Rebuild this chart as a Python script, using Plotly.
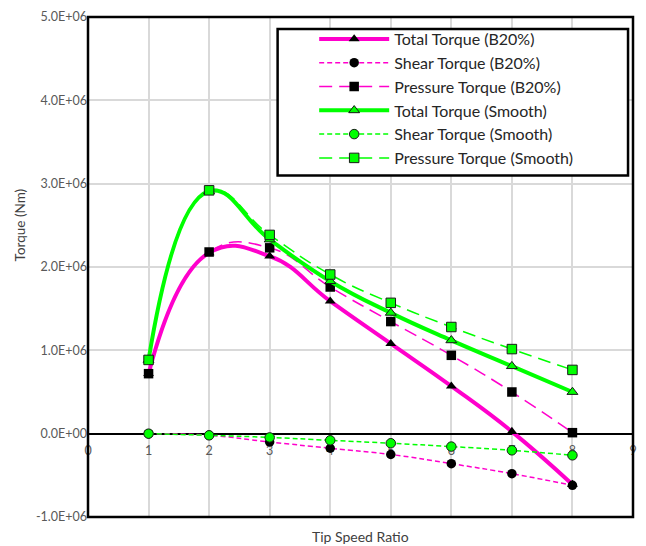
import plotly.graph_objects as go

tsr = [1, 2, 3, 4, 5, 6, 7, 8]
total_b20 = [0.72e6, 2.17e6, 2.13e6, 1.59e6, 1.08e6, 0.57e6, 0.025e6, -0.61e6]
shear_b20 = [0.0, -0.02e6, -0.10e6, -0.175e6, -0.25e6, -0.36e6, -0.48e6, -0.62e6]
pressure_b20 = [0.72e6, 2.18e6, 2.23e6, 1.76e6, 1.345e6, 0.94e6, 0.50e6, 0.012e6]
total_smooth = [0.885e6, 2.91e6, 2.33e6, 1.83e6, 1.45e6, 1.12e6, 0.81e6, 0.50e6]
shear_smooth = [0.0, -0.02e6, -0.045e6, -0.08e6, -0.115e6, -0.155e6, -0.20e6, -0.26e6]
pressure_smooth = [0.885e6, 2.92e6, 2.385e6, 1.91e6, 1.57e6, 1.28e6, 1.015e6, 0.765e6]

x_tick_vals = [0, 1, 2, 3, 4, 5, 6, 7, 8, 9]
x_tick_text = ["0", "1", "2", "3", "4", "5", "6", "7", "8", "9"]
y_tick_vals = [-1e6, 0, 1e6, 2e6, 3e6, 4e6, 5e6]
y_tick_text = ["-1.0E+06", "0.0E+00", "1.0E+06", "2.0E+06", "3.0E+06", "4.0E+06", "5.0E+06"]

MAG = "#FF00CC"
GRN = "#00FF00"
FONT = "Lato"

fig = go.Figure()

def add(name, y, color, width, dash, symbol, mfill, mline):
    fig.add_trace(go.Scatter(
        x=tsr, y=y, name=name, mode="lines+markers",
        line=dict(color=color, width=width, dash=dash, shape="spline", smoothing=1.3),
        marker=dict(symbol=symbol, size=9.5, color=mfill,
                    line=dict(color=mline, width=1 if mfill != "black" else 0)),
    ))

add("Total Torque (B20%)", total_b20, MAG, 4, "solid", "triangle-up", "black", "black")
add("Shear Torque (B20%)", shear_b20, MAG, 1.5, "5px,3px", "circle", "black", "black")
add("Pressure Torque (B20%)", pressure_b20, MAG, 1.5, "13px,7px", "square", "black", "black")
add("Total Torque (Smooth)", total_smooth, GRN, 4, "solid", "triangle-up", GRN, "#1a1a1a")
add("Shear Torque (Smooth)", shear_smooth, GRN, 1.5, "5px,3px", "circle", GRN, "#1a1a1a")
add("Pressure Torque (Smooth)", pressure_smooth, GRN, 1.5, "13px,7px", "square", GRN, "#1a1a1a")

fig.update_layout(
    width=646, height=546,
    margin=dict(l=88, r=9, t=12, b=29),
    paper_bgcolor="white", plot_bgcolor="white",
    font=dict(family=FONT, color="#404040"),
    showlegend=True,
    legend=dict(x=0.415, y=0.99, xanchor="left", yanchor="top",
                bgcolor="rgba(0,0,0,0)", borderwidth=0,
                font=dict(family=FONT, size=16, color="#262626"),
                itemwidth=70, tracegroupgap=0),
    xaxis=dict(range=[0, 9], tickvals=x_tick_vals, ticktext=x_tick_text,
               showgrid=True, gridcolor="#d9d9d9", gridwidth=2,
               zeroline=False, showline=False, ticks="",
               anchor="free", position=1/6, layer="below traces",
               ticklabelstandoff=8,
               tickfont=dict(family=FONT, size=12.5, color="#595959")),
    yaxis=dict(range=[-1e6, 5e6], tickvals=y_tick_vals, ticktext=y_tick_text,
               showgrid=True, gridcolor="#d9d9d9", gridwidth=2,
               zeroline=True, zerolinecolor="black", zerolinewidth=2,
               showline=False, ticks="",
               tickfont=dict(family=FONT, size=12.5, color="#595959")),
    shapes=[
        dict(type="rect", xref="paper", yref="paper", x0=0, x1=1, y0=0, y1=1,
             line=dict(color="black", width=2.5), layer="above"),
        dict(type="rect", xref="paper", yref="paper",
             x0=(279 - 88) / 549, x1=(632 - 88) / 549,
             y0=(517 - 172) / 505, y1=(517 - 24) / 505,
             fillcolor="white", line=dict(color="black", width=2.5), layer="above"),
    ],
    annotations=[
        dict(text="Tip Speed Ratio", xref="paper", yref="paper",
             x=0.5, y=(517 - 537) / 505, xanchor="center", yanchor="middle",
             showarrow=False, font=dict(family=FONT, size=14, color="#404040")),
        dict(text="Torque (Nm)", xref="paper", yref="paper",
             x=(19 - 88) / 549, y=(517 - 222) / 505, xanchor="center", yanchor="middle",
             textangle=-90, showarrow=False, font=dict(family=FONT, size=13.5, color="#404040")),
    ],
)

fig.write_html("out.html", config={"displayModeBar": False},
               post_script="document.body.style.margin='0';")
